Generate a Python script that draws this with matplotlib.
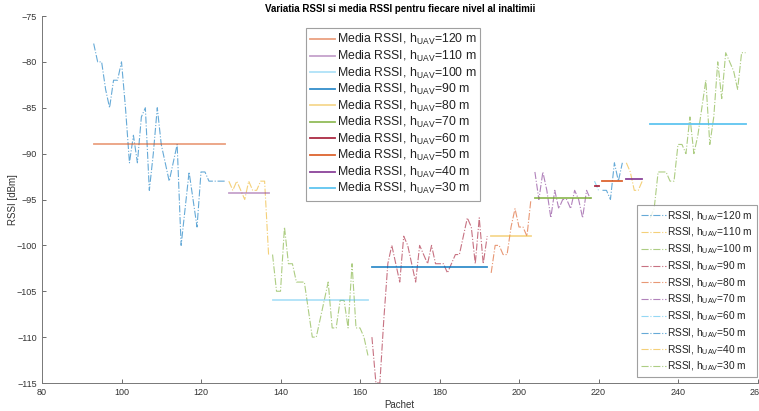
import matplotlib
matplotlib.use("Agg")
import matplotlib.pyplot as plt

plt.rcParams["font.family"] = ["Liberation Sans", "DejaVu Sans"]
plt.rcParams["mathtext.fontset"] = "custom"
plt.rcParams["mathtext.rm"] = "Liberation Sans"
plt.rcParams["mathtext.it"] = "Liberation Sans"

heights = [120, 110, 100, 90, 80, 70, 60, 50, 40, 30]

# packet index ranges per height level
x120 = list(range(93, 127))
x110 = list(range(127, 138))
x100 = list(range(138, 163))
x90 = list(range(163, 193))
x80 = list(range(193, 204))
x70 = list(range(204, 219))
x60 = list(range(219, 221))
x50 = list(range(221, 227))
x40 = list(range(227, 232))
x30 = list(range(233, 258))

# RSSI values [dBm]
r120 = [-78, -80, -80, -83, -85, -82, -82, -80, -85, -91, -88, -91, -86, -85, -94, -90, -85,
        -89, -91, -93, -91, -89, -100, -96, -92, -95, -98, -92, -92, -93, -93, -93, -93, -93]
r110 = [-93, -94, -93, -94, -95, -93, -94, -94, -93, -93, -101]
r100 = [-101, -105, -105, -98, -102, -102, -104, -104, -104, -107, -110, -110, -108, -106, -104,
        -109, -109, -106, -106, -109, -102, -109, -109, -110, -112]
r90 = [-110, -115, -115, -108, -102, -100, -102, -104, -99, -100, -102, -104, -100, -101, -102,
       -100, -102, -102, -102, -103, -102, -101, -101, -99, -97, -98, -102, -97, -102, -99]
r80 = [-103, -100, -100, -101, -101, -98, -96, -98, -98, -99, -95]
r70 = [-92, -95, -92, -94, -97, -94, -96, -95, -95, -96, -94, -95, -97, -94, -95]
r60 = [-93, -94]
r50 = [-94, -94, -95, -91, -93, -91]
r40 = [-91, -92, -94, -94, -93]
r30 = [-97, -96, -92, -92, -92, -93, -93, -89, -89, -90, -86, -90, -88, -85, -82, -89, -86,
       -80, -84, -79, -80, -81, -83, -79, -79]

# mean RSSI per level
means = [-89.0, -94.3, -106.0, -102.4, -99.0, -94.8, -93.5, -93.0, -92.8, -86.8]

xs = [x120, x110, x100, x90, x80, x70, x60, x50, x40, x30]
rs = [r120, r110, r100, r90, r80, r70, r60, r50, r40, r30]

# MATLAB default colour order, cycled over rssi/mean pairs
order = ["#0072BD", "#D95319", "#EDB120", "#7E2F8E", "#77AC30", "#4DBEEE", "#A2142F"]
mean_alpha = [0.55, 0.45, 0.45, 0.8, 0.5, 0.8, 0.9, 0.9, 0.9, 0.9]

fig = plt.figure(figsize=(7.59, 4.11), dpi=100)
ax = fig.add_axes([42 / 759, 28 / 411, 715.5 / 759, 367 / 411])

rssi_lines = []
mean_lines = []
for i, h in enumerate(heights):
    c_r = order[(2 * i) % 7]
    c_m = order[(2 * i + 1) % 7]
    l1, = ax.plot(xs[i], rs[i], linestyle="-.", color=c_r, lw=0.8, alpha=0.6,
                  label=r"RSSI, h$_{\mathrm{UAV}}$=%d m" % h)
    l2, = ax.plot([xs[i][0], xs[i][-1]], [means[i], means[i]], color=c_m, lw=1.3,
                  alpha=mean_alpha[i], label=r"Media RSSI, h$_{\mathrm{UAV}}$=%d m" % h)
    rssi_lines.append(l1)
    mean_lines.append(l2)

ax.set_xlim(80, 260)
ax.set_ylim(-115, -75)
ax.set_xticks(range(80, 261, 20))
ax.set_yticks(range(-115, -74, 5))
ax.tick_params(direction="in", length=3, width=0.6, colors="#555555", labelsize=6.5,
               labelcolor="#333333")
for s in ["top", "right"]:
    ax.spines[s].set_visible(False)
for s in ["left", "bottom"]:
    ax.spines[s].set_color("#777777")
    ax.spines[s].set_linewidth(0.7)

ax.set_xlabel("Pachet", fontsize=7, color="#333333", labelpad=2)
ax.set_ylabel("RSSI [dBm]", fontsize=7, color="#333333")
ax.yaxis.set_label_coords(-24 / 715.5, 0.5)
fig.suptitle("Variatia RSSI si media RSSI pentru fiecare nivel al inaltimii",
             fontsize=7, fontweight="bold", x=400 / 759, y=0.99, va="top")

leg1 = fig.legend(handles=mean_lines, loc="upper left",
                  bbox_to_anchor=(306 / 759, 1 - 28 / 411), fontsize=8.8,
                  frameon=True, fancybox=False, edgecolor="#888888",
                  handlelength=2.0, handletextpad=0.15, labelspacing=0.12,
                  borderpad=0.35, borderaxespad=0)
leg1.get_frame().set_linewidth(0.8)
for t in leg1.get_texts():
    t.set_color("#222222")

leg2 = fig.legend(handles=rssi_lines, loc="upper left",
                  bbox_to_anchor=(637 / 759, 1 - 205 / 411), fontsize=7.3,
                  frameon=True, fancybox=False, edgecolor="#888888",
                  handlelength=2.5, handletextpad=0.1, labelspacing=0.31,
                  borderpad=0.4, borderaxespad=0)
leg2.get_frame().set_linewidth(0.8)
for t in leg2.get_texts():
    t.set_color("#222222")

fig.savefig("out.png", dpi=100)
